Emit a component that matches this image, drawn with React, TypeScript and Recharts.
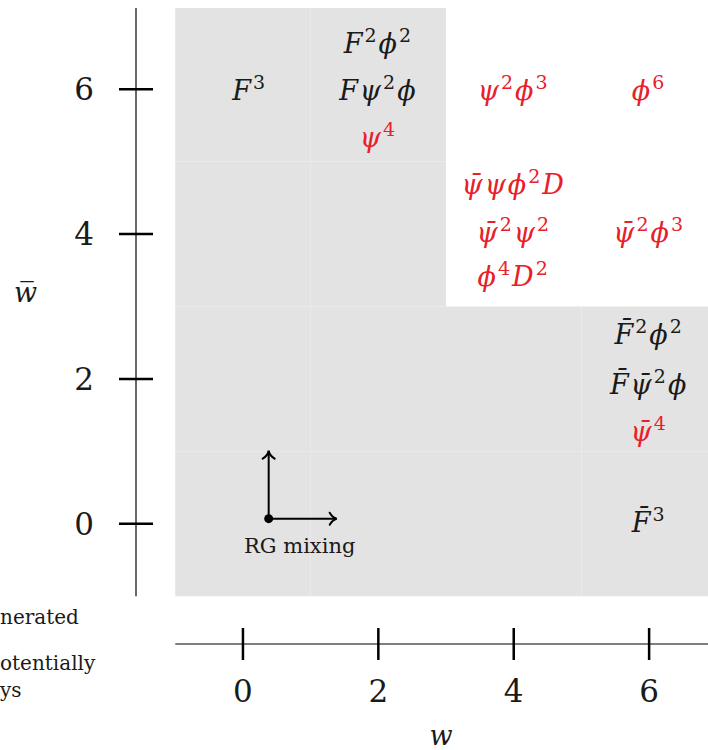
import React from 'react'
import { ScatterChart, Scatter, XAxis, YAxis, ReferenceArea, ReferenceLine, ReferenceDot } from 'recharts'

// tick values on both axes
const wTicks = [0, 2, 4, 6]
const wbarTicks = [0, 2, 4, 6]

// cells (w, wbar) that are shaded grey
const cellW = [0, 0, 0, 0, 2, 2, 2, 2, 4, 4, 6, 6]
const cellWbar = [0, 2, 4, 6, 0, 2, 4, 6, 0, 2, 0, 2]

// operators: name (^ = superscript), position, red or not
const opNames = ['F^3', 'F^2ϕ^2', 'Fψ^2ϕ', 'ψ^4', 'ψ^2ϕ^3', 'ϕ^6', 'ψ̄ψϕ^2D', 'ψ̄^2ψ^2', 'ϕ^4D^2', 'ψ̄^2ϕ^3', 'F̄^2ϕ^2', 'F̄ψ̄^2ϕ', 'ψ̄^4', 'F̄^3']
const opW = [0.1, 2, 2, 2, 4, 6, 4, 4, 4, 6, 6, 6, 6, 6]
const opWbar = [6, 6.65, 6, 5.35, 6, 6, 4.71, 4.04, 3.43, 4.04, 2.63, 1.94, 1.3, 0.04]
const opRed = [false, false, false, true, true, true, true, true, true, true, false, false, true, false]

// legend fragments at the left edge
const legendLines = ['nerated', 'otentially', 'ys']

const RED = '#e8202a'
const INK = '#1a1a1a'
const SERIF = '"DejaVu Serif", "Liberation Serif", serif'

const xDomain = [-1.58, 6.87]
const yDomain = [-1.66, 7.12]

const opData = opNames.map((name, i) => ({ name, w: opW[i], wbar: opWbar[i], red: opRed[i] }))

const parse = (s: string) => {
  const out: { t: string; sup: boolean }[] = []
  for (let i = 0; i < s.length; i++) {
    if (s[i] === '^') {
      out.push({ t: s[i + 1], sup: true })
      i++
    } else {
      const last = out[out.length - 1]
      if (last && !last.sup) last.t += s[i]
      else out.push({ t: s[i], sup: false })
    }
  }
  return out
}

const MathLabel = (props: any) => {
  const { cx, cy, payload } = props
  const raise = 11
  let up = false
  const parts = parse(payload.name)
  return (
    <text x={cx} y={cy + 11} textAnchor="middle" fontFamily={SERIF} fontSize={27} letterSpacing={2} fill={payload.red ? RED : INK}>
      {parts.map((p, i) => {
        let dy = 0
        if (p.sup && !up) { dy = -raise; up = true }
        else if (!p.sup && up) { dy = raise; up = false }
        return (
          <tspan key={i} dy={dy} fontSize={p.sup ? 19 : 27} fontStyle={p.sup ? 'normal' : 'italic'}>{p.t}</tspan>
        )
      })}
    </text>
  )
}

const XTick = (props: any) => {
  const { x, y, payload } = props
  return (
    <g>
      <line x1={x} x2={x} y1={y - 16} y2={y + 16} stroke="#000" strokeWidth={2.5} />
      <text x={x} y={y + 58} textAnchor="middle" fontFamily={SERIF} fontSize={31} fill={INK}>{payload.value}</text>
    </g>
  )
}

const YTick = (props: any) => {
  const { x, y, payload } = props
  return (
    <g>
      <line x1={x - 17} x2={x + 17} y1={y} y2={y} stroke="#000" strokeWidth={2.5} />
      <text x={x - 52} y={y + 11} textAnchor="middle" fontFamily={SERIF} fontSize={31} fill={INK}>{payload.value}</text>
    </g>
  )
}

const RgMixing = (props: any) => {
  const { cx, cy } = props
  return (
    <g stroke="#000" strokeWidth={2} fill="none" strokeLinecap="round">
      <line x1={cx} y1={cy} x2={cx} y2={cy - 67} />
      <path d={`M${cx - 6},${cy - 60} Q${cx - 1},${cy - 63} ${cx},${cy - 68} Q${cx + 1},${cy - 63} ${cx + 6},${cy - 60}`} />
      <line x1={cx} y1={cy} x2={cx + 67} y2={cy} />
      <path d={`M${cx + 61},${cy - 6} Q${cx + 64},${cy - 1} ${cx + 68},${cy} Q${cx + 64},${cy + 1} ${cx + 61},${cy + 6}`} />
      <circle cx={cx} cy={cy} r={4.5} fill="#000" stroke="none" />
      <text x={cx + 31} y={cy + 34} textAnchor="middle" fontFamily={SERIF} fontSize={21} fill={INK} stroke="none">RG mixing</text>
    </g>
  )
}

const App = () => {
  return (
    <div style={{ position: 'relative', width: 708, height: 750 }}>
      <style>{'body { margin: 0; }'}</style>
      <ScatterChart width={708} height={750} margin={{ top: 8, right: 0, left: 0, bottom: 0 }}>
        <XAxis type="number" dataKey="w" domain={xDomain} ticks={wTicks} allowDataOverflow axisLine={false} tickLine={false} tickSize={0} tickMargin={0} tick={<XTick />} height={106}
          label={{ value: 'w', position: 'insideBottom', offset: 5, dx: 19, style: { fontFamily: SERIF, fontStyle: 'italic', fontSize: 27, fill: INK } }} />
        <YAxis type="number" dataKey="wbar" domain={yDomain} ticks={wbarTicks} allowDataOverflow axisLine={false} tickLine={false} tickSize={0} tickMargin={0} tick={<YTick />} width={136}
          label={{ value: 'w̅', position: 'insideLeft', offset: 14, dy: -34, style: { fontFamily: SERIF, fontStyle: 'italic', fontSize: 27, fill: INK } }} />
        {cellW.map((w, i) => (
          <ReferenceArea key={i} x1={w - 1} x2={w + 1} y1={cellWbar[i] - 1} y2={cellWbar[i] + 1 >= 7 ? yDomain[1] : cellWbar[i] + 1}
            fill="#e3e3e3" fillOpacity={1} stroke="none" ifOverflow="hidden" />
        ))}
        <ReferenceLine segment={[{ x: xDomain[0], y: -1 }, { x: xDomain[0], y: yDomain[1] }]} stroke="#444" strokeWidth={1.6} ifOverflow="visible" />
        <ReferenceLine segment={[{ x: -1, y: yDomain[0] }, { x: xDomain[1], y: yDomain[0] }]} stroke="#555" strokeWidth={1.6} ifOverflow="visible" />
        <ReferenceDot x={0.38} y={0.07} shape={<RgMixing />} ifOverflow="visible" />
        <Scatter data={opData} isAnimationActive={false} shape={<MathLabel />} />
      </ScatterChart>
      {legendLines.map((t, i) => (
        <div key={t} style={{ position: 'absolute', left: 0, top: [607, 653, 680][i], fontFamily: SERIF, fontSize: 20, lineHeight: '20px', color: INK, whiteSpace: 'nowrap' }}>{t}</div>
      ))}
    </div>
  )
}

export default App
